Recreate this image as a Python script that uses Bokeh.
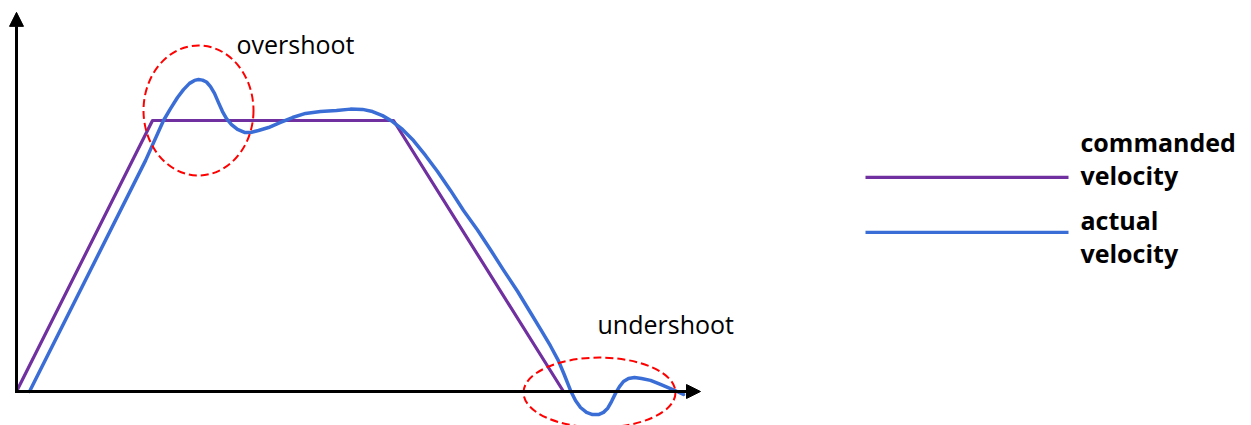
from bokeh.plotting import figure
from bokeh.models import Range1d, Arrow, NormalHead
from bokeh.embed import file_html
from bokeh.resources import INLINE
from bokeh.core.properties import value

# ---- data (time units, velocity in % of commanded plateau) ----
cmd_t = [0, 136, 377, 547]
cmd_v = [0, 100, 100, 0]

act_t = [13, 129, 147, 154, 161, 167, 173, 178, 182, 186, 190, 194, 198, 202, 206,
         210, 215, 221, 228, 234, 242, 252, 264, 276, 289, 304, 320, 334, 346, 356,
         366, 376, 386, 397, 409, 421, 434, 447, 461, 474, 487, 501, 513, 524, 534,
         542, 548, 554, 559, 564, 570, 576, 582, 587, 591, 595, 599, 603, 607, 612,
         618, 625, 634, 644, 654, 667]
act_v = [0, 85.2, 100.0, 104.4, 108.5, 111.4, 113.7, 114.8, 115.1, 114.9, 114.2,
         112.5, 110.0, 106.6, 103.3, 100.7, 98.5, 96.7, 95.6, 95.6, 96.3, 97.4, 99.3,
         101.1, 102.6, 103.3, 103.7, 104.2, 104.1, 103.3, 101.8, 99.6, 96.7, 92.6,
         87.1, 81.2, 74.2, 66.8, 59.6, 52.3, 44.8, 37.0, 29.7, 23.0, 16.8, 11.3, 6.0,
         0.4, -3.3, -5.9, -7.7, -8.5, -8.5, -7.7, -6.3, -3.7, -0.7, 1.8, 3.7, 4.8,
         5.2, 4.8, 4.1, 2.6, 1.1, -1.1]

axis_t_end = 684
axis_v_end = 139.9

callout_labels = ["overshoot", "undershoot"]
callout_text_t = [220, 581]
callout_text_v = [128.2, 24.9]
callout_t = [182, 583]
callout_v = [103.7, -0.4]
callout_w = [110, 152]
callout_h = [130, 70]

legend_names = ["commanded velocity", "actual velocity"]
legend_colors = ["#7030A0", "#3A6ED6"]
legend_line_t = [849, 1052]
legend_line_v = [79.0, 58.7]
legend_text_t = 1064
legend_text_lines = ["commanded", "velocity", "actual", "velocity"]
legend_text_v = [91.9, 80.0, 63.2, 51.0]

PURPLE = legend_colors[0]
BLUE = legend_colors[1]
FONT = value("Open Sans")

W, H = 1251, 425
p = figure(width=W, height=H, output_backend="svg", toolbar_location=None,
           x_range=Range1d(-16, W - 16),
           y_range=Range1d((391 - H) / 2.71, 391 / 2.71),
           x_axis_location=None, y_axis_location=None,
           min_border=0, min_border_left=0, min_border_right=0,
           min_border_top=0, min_border_bottom=0)
p.grid.visible = False
p.outline_line_color = None
p.background_fill_color = "white"
p.border_fill_color = "white"

# axes with arrow heads
p.add_layout(Arrow(x_start=0, y_start=0, x_end=0, y_end=axis_v_end, line_width=3,
                   line_color="black",
                   end=NormalHead(size=14, fill_color="black", line_color="black")))
p.add_layout(Arrow(x_start=-1.5, y_start=0, x_end=axis_t_end, y_end=0, line_width=3,
                   line_color="black",
                   end=NormalHead(size=14, fill_color="black", line_color="black")))

# curves
p.line(cmd_t, cmd_v, line_color=PURPLE, line_width=3.2, line_join="round")
p.line(act_t, act_v, line_color=BLUE, line_width=3.5, line_join="round", line_cap="round")

# legend samples
for c, v in zip(legend_colors, legend_line_v):
    p.line(legend_line_t, [v, v], line_color=c, line_width=3.2)
p.text(x=[legend_text_t] * 4, y=legend_text_v, text=legend_text_lines,
       text_font=FONT, text_font_size="25px", text_font_style="bold",
       text_baseline="alphabetic", text_align="left", text_color="black")

# callouts
p.ellipse(x=callout_t, y=callout_v, width=callout_w, height=callout_h,
          width_units="screen", height_units="screen",
          fill_color=None, line_color="#FF0000", line_width=2, line_dash="8 4")
p.text(x=callout_text_t, y=callout_text_v, text=callout_labels,
       text_font=FONT, text_font_size="25px",
       text_baseline="alphabetic", text_align="left", text_color="black")

open("out.html", "w").write(file_html(p, INLINE))
